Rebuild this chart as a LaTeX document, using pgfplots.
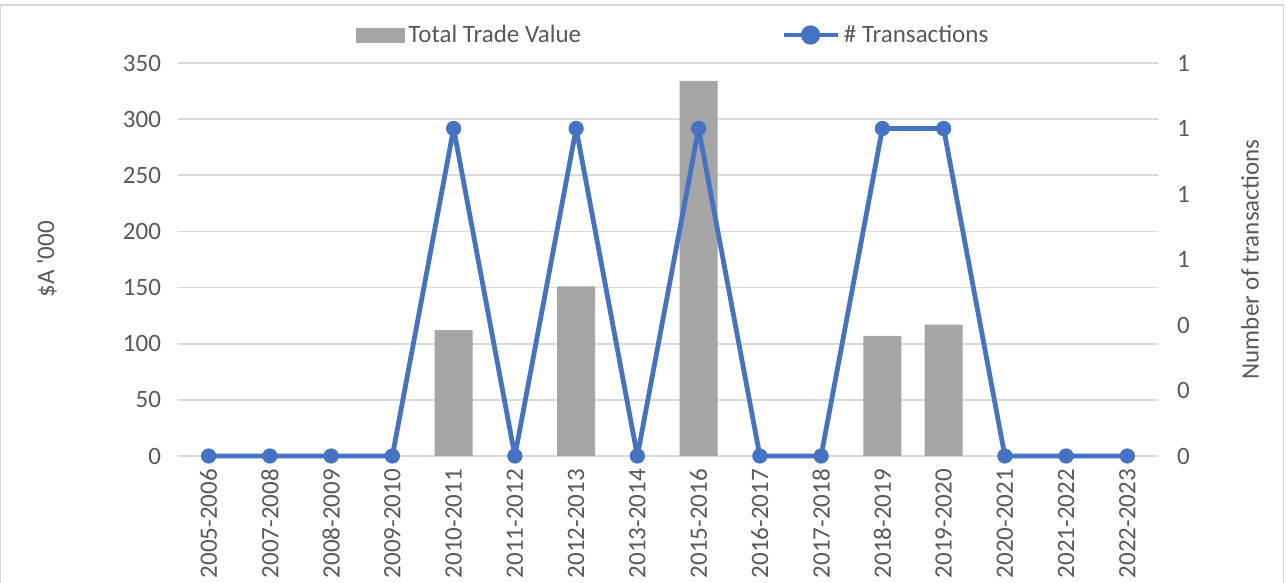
\documentclass[border=0pt]{standalone}
\usepackage{fontspec}
\setmainfont{Carlito}
\usepackage{pgfplots}
\pgfplotsset{compat=1.18}
\definecolor{txt}{HTML}{595959}
\definecolor{barc}{HTML}{A5A5A5}
\definecolor{linec}{HTML}{4472C4}
\definecolor{gridc}{HTML}{D9D9D9}
\begin{document}
\begin{tikzpicture}[x=1pt,y=1pt]
\path[use as bounding box] (0,0) rectangle (643.5,291.5);
\draw[gridc, line width=0.6pt] (0.4,-2) rectangle (641.6,289);
\pgfplotsset{common/.style={
  scale only axis, width=490pt, height=196.5pt,
  at={(89pt,63.5pt)}, anchor=south west,
  xmin=-0.5, xmax=15.5,
  major tick length=0pt,
  axis line style={draw=none},
  tick label style={font=\fontsize{12.5}{13}\selectfont, text=txt},
  label style={font=\fontsize{12.5}{13}\selectfont, text=txt},
  /pgf/number format/assume math mode=true,
}}
\begin{axis}[common,
  ymin=0, ymax=350, ytick={0,50,...,350},
  ymajorgrids, grid style={gridc, line width=0.8pt},
  xtick={0,...,15},
  xticklabels={2005-2006,2007-2008,2008-2009,2009-2010,2010-2011,2011-2012,2012-2013,2013-2014,2015-2016,2016-2017,2017-2018,2018-2019,2019-2020,2020-2021,2021-2022,2022-2023},
  xticklabel style={rotate=90, anchor=east},
  xticklabel shift=3pt,
  yticklabel shift=5pt,
  ylabel={\$A \textquotesingle000},
  ylabel style={at={(axis description cs:-0.1337,0.5)}, anchor=center},
]
\addplot[ybar, bar width=19pt, fill=barc, draw=none] coordinates {
  (4,112) (6,151) (8,334) (11,107) (12,117)
};
\end{axis}
\begin{axis}[common,
  axis y line*=right, axis x line=none,
  ymin=0, ymax=1.2, ytick={0,0.2,...,1.2},
  yticklabels={0,0,0,1,1,1,1},
  yticklabel shift=6pt,
  clip=false,
  ylabel={Number of transactions},
  ylabel style={at={(axis description cs:1.0939,0.5)}, anchor=center},
  legend columns=2,
  legend style={at={(axis description cs:0.5,1)}, anchor=center, yshift=14pt, xshift=3pt,
    draw=none, fill=none, font=\fontsize{12.5}{13}\selectfont, text=txt,
    /tikz/every even column/.append style={column sep=98pt}},
]
\addlegendimage{legend image code/.code={\fill[barc] (0pt,-3.5pt) rectangle (24pt,3.5pt);}}
\addlegendentry{Total Trade Value}
\addplot[linec, line width=2.4pt, line join=round, mark=*, mark size=3.6pt, mark options={fill=linec, draw=linec, line width=0.4pt},
  legend image code/.code={\draw[linec, line width=2.4pt] (0pt,0pt) -- (27pt,0pt); \fill[linec] (13.5pt,0pt) circle (3.6pt);}]
  coordinates {
  (0,0) (1,0) (2,0) (3,0) (4,1) (5,0) (6,1) (7,0) (8,1) (9,0) (10,0) (11,1) (12,1) (13,0) (14,0) (15,0)
};
\addlegendentry{\# Transactions}
\end{axis}
\end{tikzpicture}
\end{document}
